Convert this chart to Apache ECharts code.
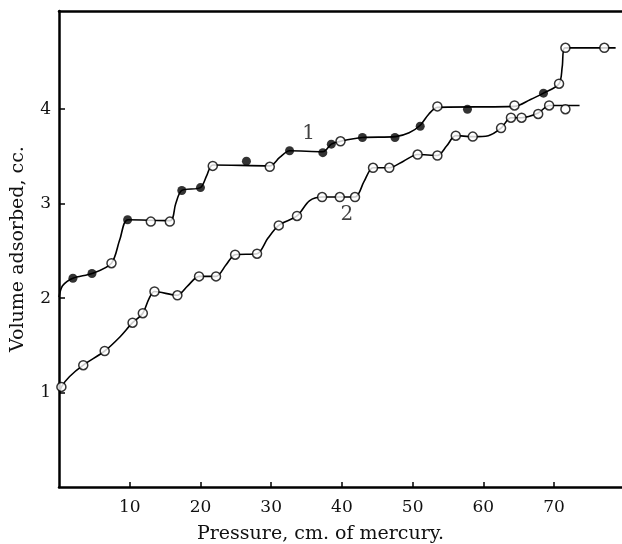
<!DOCTYPE html>
<html>
<head>
<meta charset="utf-8">
<script src="https://cdn.jsdelivr.net/npm/echarts@6/dist/echarts.min.js"></script>
<style>
html,body{margin:0;padding:0;background:#fff;}
#chart{width:622px;height:544px;}
</style>
</head>
<body>
<div id="chart"></div>
<script>
// ---- data ----
var xTicks = [10, 20, 30, 40, 50, 60, 70];
var yTicks = [1, 2, 3, 4];

// fitted (hand-drawn) curve 1, traced points [pressure, volume]
var curve1Trace = [[0,2.01],[0.5,2.13],[1.97,2.21],[4.66,2.26],[7.42,2.37],[8.6,2.62],[9.76,2.83],[15.7,2.82],[16.5,3.0],[17.36,3.14],[20.0,3.17],[20.9,3.3],[21.74,3.41],[29.8,3.40],[31.2,3.49],[32.6,3.56],[37.3,3.55],[38.5,3.63],[39.8,3.66],[42.9,3.70],[47.6,3.71],[49.5,3.75],[51.07,3.83],[52.3,3.95],[53.5,4.02],[64.4,4.03],[66.6,4.10],[68.5,4.17],[70.7,4.27],[71.15,4.45],[71.5,4.65],[78.7,4.65]];
var curve1Filled = [[1.97,2.21],[4.66,2.26],[9.7,2.83],[17.36,3.14],[20.0,3.17],[26.5,3.45],[32.6,3.56],[37.3,3.54],[38.5,3.63],[42.9,3.70],[47.5,3.70],[51.07,3.82],[57.75,4.00],[68.5,4.17]];
var curve1Open = [[7.42,2.37],[12.98,2.81],[15.67,2.81],[21.74,3.40],[29.8,3.39],[39.8,3.66],[53.5,4.03],[64.4,4.04],[70.7,4.27],[71.6,4.65],[77.1,4.65]];

// fitted curve 2
var curve2Trace = [[0.1,0.99],[0.34,1.06],[1.5,1.17],[3.43,1.29],[6.46,1.44],[8.5,1.58],[10.4,1.74],[11.85,1.84],[12.7,1.99],[13.5,2.07],[16.7,2.03],[18.2,2.13],[19.8,2.23],[22.2,2.23],[23.6,2.35],[24.9,2.46],[28.0,2.47],[29.5,2.63],[31.07,2.77],[33.65,2.87],[35.4,3.03],[37.2,3.07],[41.85,3.07],[43.1,3.23],[44.4,3.38],[46.7,3.38],[48.7,3.45],[50.7,3.52],[53.5,3.51],[54.8,3.61],[56.1,3.72],[58.5,3.71],[60.7,3.72],[62.5,3.80],[63.9,3.91],[65.4,3.91],[67.75,3.96],[69.3,4.04],[73.6,4.04]];
var curve2Open = [[0.34,1.06],[3.43,1.29],[6.46,1.44],[10.4,1.74],[11.85,1.84],[13.5,2.07],[16.74,2.03],[19.8,2.23],[22.2,2.23],[24.9,2.46],[28.0,2.47],[31.07,2.77],[33.65,2.87],[37.2,3.07],[39.7,3.07],[41.85,3.07],[44.4,3.38],[46.7,3.38],[50.7,3.52],[53.5,3.51],[56.1,3.72],[58.5,3.71],[62.5,3.80],[63.9,3.91],[65.4,3.91],[67.75,3.95],[69.3,4.04],[71.6,4.00]];

// curve labels
var curveLabels = [[35.3,3.74,'1'],[40.7,2.88,'2']];

var xTitle = 'Pressure, cm. of mercury.';
var yTitle = 'Volume adsorbed, cc.';

// ---- chart ----
var FONT = 'DejaVu Serif';
var chart = echarts.init(document.getElementById('chart'), null, {renderer:'canvas'});
var lineStyle = {color:'#000', width:1.6};
var option = {
  animation:false,
  backgroundColor:'#fff',
  title:{
    text:xTitle, left:192, top:520,
    textStyle:{fontFamily:FONT, fontSize:19, fontWeight:'normal', color:'#111'}
  },
  grid:{left:59, right:0, top:11, bottom:57},
  xAxis:[{
    type:'value', min:0, max:79.6, interval:10,
    axisLine:{show:true, lineStyle:{color:'#000', width:2.5}},
    axisTick:{show:true, inside:true, length:5, customValues:xTicks, lineStyle:{color:'#000', width:1.5}},
    axisLabel:{show:true, customValues:xTicks, margin:12, fontFamily:FONT, fontSize:17, color:'#111'},
    splitLine:{show:false}
  },{
    type:'value', position:'top', min:0, max:79.6,
    axisLine:{show:true, onZero:false, lineStyle:{color:'#000', width:2.5}},
    axisTick:{show:false}, axisLabel:{show:false}, splitLine:{show:false}
  }],
  yAxis:{
    type:'value', min:0, max:5.04, interval:1,
    name:yTitle, nameLocation:'middle', nameGap:31,
    nameTextStyle:{fontFamily:FONT, fontSize:19, color:'#111'},
    axisLine:{show:true, lineStyle:{color:'#000', width:2.5}},
    axisTick:{show:true, inside:true, length:6, customValues:yTicks, lineStyle:{color:'#000', width:1.5}},
    axisLabel:{show:true, customValues:yTicks, margin:8, fontFamily:FONT, fontSize:17, color:'#111',
      padding:[7,0,0,0]},
    splitLine:{show:false}
  },
  series:[
    {type:'line', data:curve1Trace, showSymbol:false, smooth:0.3, lineStyle:lineStyle, silent:true},
    {type:'line', data:curve2Trace, showSymbol:false, smooth:0.3, lineStyle:lineStyle, silent:true},
    {type:'scatter', data:curve1Open.concat(curve2Open), symbol:'circle', symbolSize:9,
      itemStyle:{color:'#fff', borderColor:'#000', borderWidth:1.5}, z:3},
    {type:'scatter', data:curve1Filled, symbol:'circle', symbolSize:9,
      itemStyle:{color:'#000'}, z:4},
    {type:'scatter', data:curveLabels, symbolSize:0,
      label:{show:true, position:'inside', formatter:function(p){return p.data[2];},
        fontFamily:FONT, fontSize:20, color:'#111'}, z:5}
  ]
};
chart.setOption(option);
</script>
</body>
</html>
